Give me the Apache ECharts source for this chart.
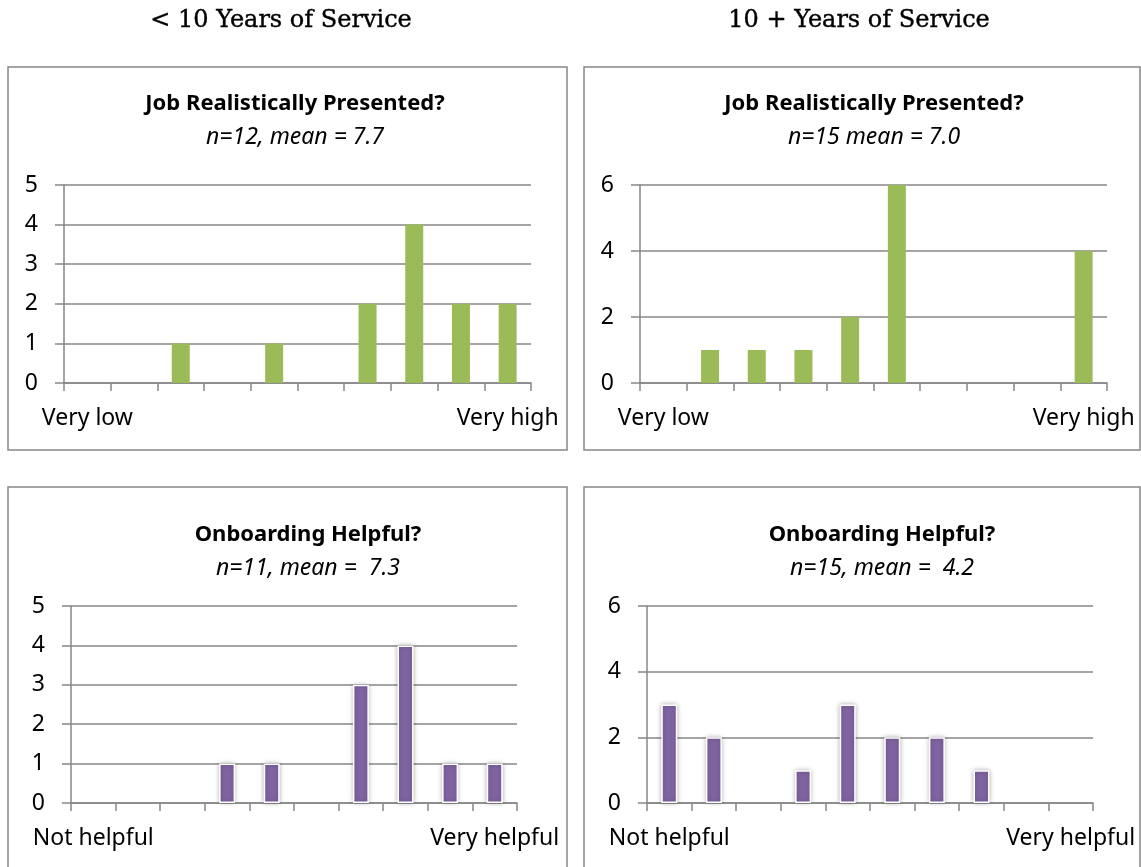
<!DOCTYPE html>
<html>
<head>
<meta charset="utf-8">
<script src="https://cdn.jsdelivr.net/npm/echarts@6/dist/echarts.min.js"></script>
<style>
  html, body { margin: 0; padding: 0; background: #fff; }
  #chart { width: 1141px; height: 867px; }
</style>
</head>
<body>
<div id="chart"></div>
<script>
// ---- data ----
const scorePoints = ["1", "2", "3", "4", "5", "6", "7", "8", "9", "10"];
const jobUnder10 = [0, 0, 1, 0, 1, 0, 2, 4, 2, 2];
const jobOver10 = [0, 1, 1, 1, 2, 6, 0, 0, 0, 4];
const onboardUnder10 = [0, 0, 0, 1, 1, 0, 3, 4, 1, 1];
const onboardOver10 = [3, 2, 0, 1, 3, 2, 2, 1, 0, 0];
const jobEnds = ["Very low", "Very high"];
const onboardEnds = ["Not helpful", "Very helpful"];
const headers = ["< 10 Years of Service", "10 + Years of Service"];
const jobTitle = "Job Realistically Presented?";
const onboardTitle = "Onboarding Helpful?";
const subtitles = ["n=12, mean = 7.7", "n=15 mean = 7.0", "n=11, mean =  7.3", "n=15, mean =  4.2"];
const yMax = [5, 6, 5, 6];
const yStep = [1, 2, 1, 2];

const GREEN = "#9bbb59";
const PURPLE = "#8064a2";
const LINE = "#878787";
const FONT = "'Noto Sans', 'Open Sans', sans-serif";

const chart = echarts.init(document.getElementById("chart"));

// plot boxes: [left, top, width, height]
const boxes = [
  [64, 185, 467, 198],
  [640, 185, 467, 198],
  [71, 606, 446, 197],
  [647, 606, 446, 197]
];
const panels = [
  { vals: jobUnder10, ends: jobEnds, title: jobTitle, color: GREEN, bw: 18, tx: 295, ty: 91 },
  { vals: jobOver10, ends: jobEnds, title: jobTitle, color: GREEN, bw: 18, tx: 874, ty: 91 },
  { vals: onboardUnder10, ends: onboardEnds, title: onboardTitle, color: PURPLE, bw: 16, tx: 308, ty: 522 },
  { vals: onboardOver10, ends: onboardEnds, title: onboardTitle, color: PURPLE, bw: 16, tx: 882, ty: 522 }
];

const grid = boxes.map(b => ({ left: b[0], top: b[1], width: b[2], height: b[3] }));

const xAxis = panels.map((p, i) => ({
  type: "category",
  gridIndex: i,
  data: scorePoints,
  axisLine: { lineStyle: { color: LINE, width: 1.5 } },
  axisTick: { show: true, interval: 0, length: 8, lineStyle: { color: LINE, width: 1.5 } },
  axisLabel: {
    interval: 0,
    margin: 24,
    color: "#000",
    fontFamily: FONT,
    fontSize: 23,
    formatter: (v, idx) => idx === 0 ? p.ends[0] : (idx === scorePoints.length - 1 ? p.ends[1] : "")
  }
}));

const yAxis = panels.map((p, i) => ({
  type: "value",
  gridIndex: i,
  min: 0,
  max: yMax[i],
  interval: yStep[i],
  axisLine: { show: true, lineStyle: { color: LINE, width: 1.5 } },
  axisTick: { show: true, length: 9, lineStyle: { color: LINE, width: 1.5 } },
  splitLine: { lineStyle: { color: LINE, width: 1.5 } },
  axisLabel: { margin: 26, color: "#000", fontFamily: FONT, fontSize: 23 }
}));

const series = panels.map((p, i) => ({
  type: "bar",
  xAxisIndex: i,
  yAxisIndex: i,
  barWidth: p.bw,
  data: p.vals.map(v => v === 0 ? null : v),
  itemStyle: p.color === PURPLE
    ? { color: p.color, borderColor: "#fff", borderWidth: 1.5, shadowBlur: 5, shadowColor: "rgba(0,0,0,0.3)" }
    : { color: p.color }
}));

const title = panels.map((p, i) => ({
  text: p.title,
  subtext: subtitles[i],
  left: p.tx,
  top: p.ty,
  textAlign: "center",
  padding: 0,
  itemGap: 9,
  textStyle: { fontFamily: FONT, fontSize: 22, fontWeight: "bold", color: "#000", lineHeight: 25 },
  subtextStyle: { fontFamily: FONT, fontSize: 23, fontStyle: "italic", color: "#000", lineHeight: 25 }
}));
title.push(
  { text: headers[0], left: 281, top: 7, textAlign: "center", padding: 0,
    textStyle: { fontFamily: "'DejaVu Serif', serif", fontSize: 24, fontWeight: 500, color: "#000", lineHeight: 28,
      textBorderColor: "#000", textBorderWidth: 0.4 } },
  { text: headers[1], left: 859, top: 7, textAlign: "center", padding: 0,
    textStyle: { fontFamily: "'DejaVu Serif', serif", fontSize: 24, fontWeight: 500, color: "#000", lineHeight: 28,
      textBorderColor: "#000", textBorderWidth: 0.4 } }
);

// panel frames
const frames = [
  [8, 67, 559, 383],
  [584, 67, 556, 383],
  [8, 487, 559, 390],
  [584, 487, 556, 390]
];

const option = {
  animation: false,
  title,
  grid,
  xAxis,
  yAxis,
  series,
  graphic: frames.map(f => ({
    type: "rect",
    silent: true,
    z: -1,
    shape: { x: f[0], y: f[1], width: f[2], height: f[3] },
    style: { fill: "none", stroke: LINE, lineWidth: 1.5 }
  }))
};

chart.setOption(option);
window.addEventListener("resize", () => chart.resize());
</script>
</body>
</html>
